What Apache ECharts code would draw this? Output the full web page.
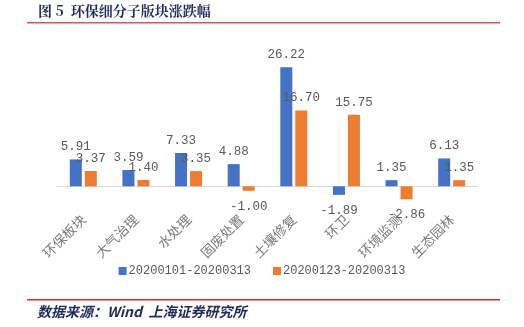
<!DOCTYPE html>
<html><head><meta charset="utf-8">
<script src="https://cdn.jsdelivr.net/npm/echarts@6/dist/echarts.min.js"></script>
<style>html,body{margin:0;padding:0;background:#fff}#c{width:524px;height:327px}</style>
</head><body><div id="c"></div>
<script>
var categories = ['环保板块','大气治理','水处理','固废处置','土壤修复','环卫','环境监测','生态园林'];
var seriesNames = ['20200101-20200313','20200123-20200313'];
var valuesA = [5.91, 3.59, 7.33, 4.88, 26.22, -1.89, 1.35, 6.13];
var valuesB = [3.37, 1.40, 3.35, -1.00, 16.70, 15.75, -2.86, 1.35];
var titleText = '图 5  环保细分子版块涨跌幅';
var sourceText = '数据来源：Wind  上海证券研究所';

function toData(arr){
  return arr.map(function(v){ return {value: v, label: v < 0 ? {position: 'bottom', distance: 9} : {position: 'top', distance: 6}}; });
}
var labelFont = '"Liberation Mono", monospace';
var chart = echarts.init(document.getElementById('c'), null, {renderer:'canvas'});
chart.setOption({
  animation: false,
  backgroundColor: '#fff',
  grid: {left: 57, right: 46, top: 50, bottom: 118},
  legend: {
    bottom: 45, left: 'center', itemWidth: 8, itemHeight: 8, itemGap: 22,
    icon: 'rect',
    textStyle: {color: '#595959', fontSize: 12, fontFamily: labelFont, padding: [0, 0, 0, -3]}
  },
  xAxis: {
    type: 'category', data: categories,
    axisLine: {onZero: true, lineStyle: {color: '#d9d9d9', width: 1}},
    axisTick: {show: false},
    axisLabel: {rotate: 45, color: '#7a7a7a', fontSize: 13.5, margin: 8, fontFamily: '"Noto Sans CJK SC", sans-serif'}
  },
  yAxis: {type: 'value', min: -5, max: 30, show: false, splitLine: {show: false}},
  series: [
    {name: seriesNames[0], type: 'bar', data: toData(valuesA), barWidth: 12, barGap: '25%',
     itemStyle: {color: '#4472C4'},
     label: {show: true, color: '#595959', fontSize: 12.5, fontFamily: labelFont, formatter: function(p){return p.value.toFixed(2);}}},
    {name: seriesNames[1], type: 'bar', data: toData(valuesB), barWidth: 12,
     itemStyle: {color: '#ED7D31'},
     label: {show: true, color: '#595959', fontSize: 12.5, fontFamily: labelFont, formatter: function(p){return p.value.toFixed(2);}}}
  ],
  graphic: [
    {type: 'text', left: 38, top: 4, style: {text: titleText, fill: '#1f2d5c', font: 'bold 14px "Noto Serif CJK SC", "Noto Sans CJK SC", serif'}},
    {type: 'rect', shape: {x: 27, y: 22, width: 473, height: 1.5}, style: {fill: '#e8504f'}},
    {type: 'rect', shape: {x: 27, y: 299, width: 473, height: 1.5}, style: {fill: '#d62a2a'}},
    {type: 'text', left: 37, top: 305, style: {text: sourceText, fill: '#1f2d5c', font: 'italic bold 14px "Noto Sans CJK SC", serif'}}
  ]
});
</script></body></html>
